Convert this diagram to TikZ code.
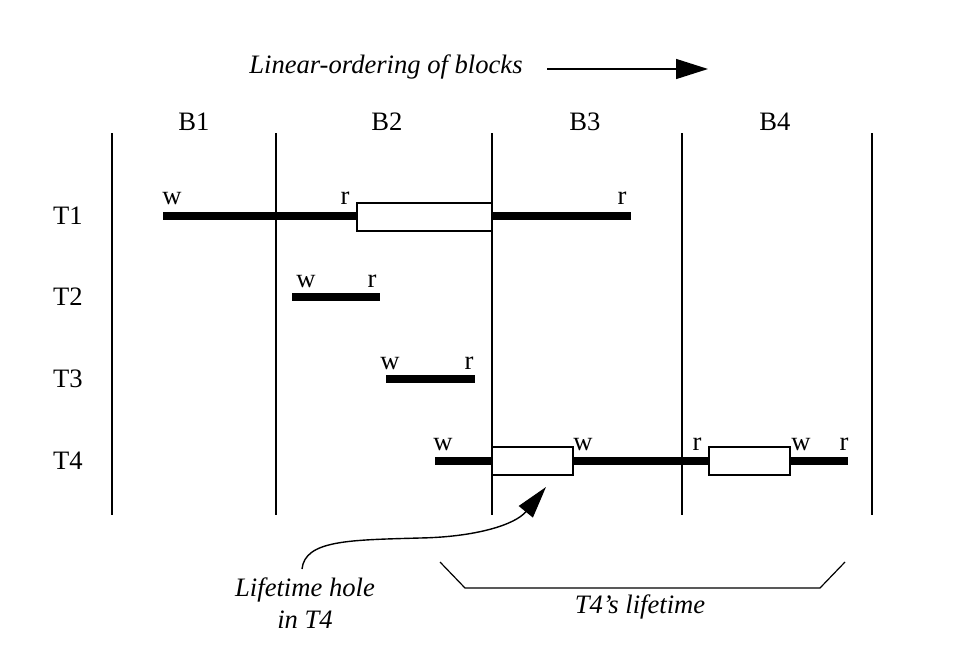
\documentclass[tikz,border=0pt]{standalone}
\usepackage{fontspec}
\setmainfont{Liberation Serif}
\usetikzlibrary{arrows.meta,positioning}

\begin{document}
\begin{tikzpicture}[x=0.5pt,y=-0.5pt,font=\fontsize{13.3}{16}\selectfont,
  blockline/.style={line width=0.7pt},
  lifebar/.style={line width=4pt},
  holebox/.style={draw,fill=white,line width=0.6pt},
  acc/.style={inner sep=0pt,anchor=base}]
  \useasboundingbox (0,0) rectangle (969,669);
  % ordering arrow
  \node (title) at (386,67) {\itshape Linear-ordering of blocks};
  \coordinate (ordS) at (547,69); \coordinate (ordE) at (708,69);
  \draw[line width=0.7pt,-{Triangle[length=16pt,width=10pt]}] (ordS) -- (ordE);
  % block boundaries
  \foreach \x/\n in {112/0,276/1,492/2,682/3,872/4}{
    \coordinate (top\n) at (\x,133); \coordinate (bot\n) at (\x,515);
    \draw[blockline] (top\n) -- (bot\n);}
  \foreach \x/\n in {194/1,387/2,585/3,775/4}{\node (B\n) at (\x,122) {B\n};}
  \foreach \y/\n in {216/1,297/2,379/3,461/4}{\node (T\n) at (68,\y) {T\n};}
  % T1
  \draw[lifebar] (163,216) -- (357,216);
  \draw[lifebar] (492,216) -- (631,216);
  \draw[holebox] (357,203) rectangle (492,231);
  \node[acc] (t1w) at (172,204) {w};
  \node[acc] (t1r) at (345,204) {r};
  \node[acc] (t1r2) at (622,204) {r};
  % T2
  \draw[lifebar] (292,297) -- (380,297);
  \node[acc] (t2w) at (306,287) {w};
  \node[acc] (t2r) at (372,287) {r};
  % T3
  \draw[lifebar] (386,379) -- (475,379);
  \node[acc] (t3w) at (390,369) {w};
  \node[acc] (t3r) at (469,369) {r};
  % T4
  \draw[lifebar] (435,461) -- (492,461);
  \draw[lifebar] (573,461) -- (709,461);
  \draw[lifebar] (790,461) -- (848,461);
  \draw[holebox] (492,447) rectangle (573,475);
  \draw[holebox] (709,447) rectangle (790,475);
  \node[acc] (t4w) at (443,450) {w};
  \node[acc] (t4w2) at (583,450) {w};
  \node[acc] (t4r) at (697,450) {r};
  \node[acc] (t4w3) at (801,450) {w};
  \node[acc] (t4r2) at (844,450) {r};
  % hole callout
  \node[align=center,font=\fontsize{13.3}{16}\selectfont\itshape] (hole) at (305,603) {Lifetime hole\\in T4};
  \coordinate (tip) at (546,487);
  \draw[line width=0.7pt,-{Triangle[length=16pt,width=9pt]}] (302,569) .. controls (305,540) and (350,540) .. (420,538) .. controls (475,537) and (515,525) .. (tip);
  % lifetime bracket
  \coordinate (brA) at (440,562); \coordinate (brB) at (465,588);
  \coordinate (brC) at (820,588); \coordinate (brD) at (845,562);
  \draw[line width=0.6pt] (brA) -- (brB) -- (brC) -- (brD);
  \node (life) at (640,607) {\itshape T4's lifetime};
\end{tikzpicture}
\end{document}
